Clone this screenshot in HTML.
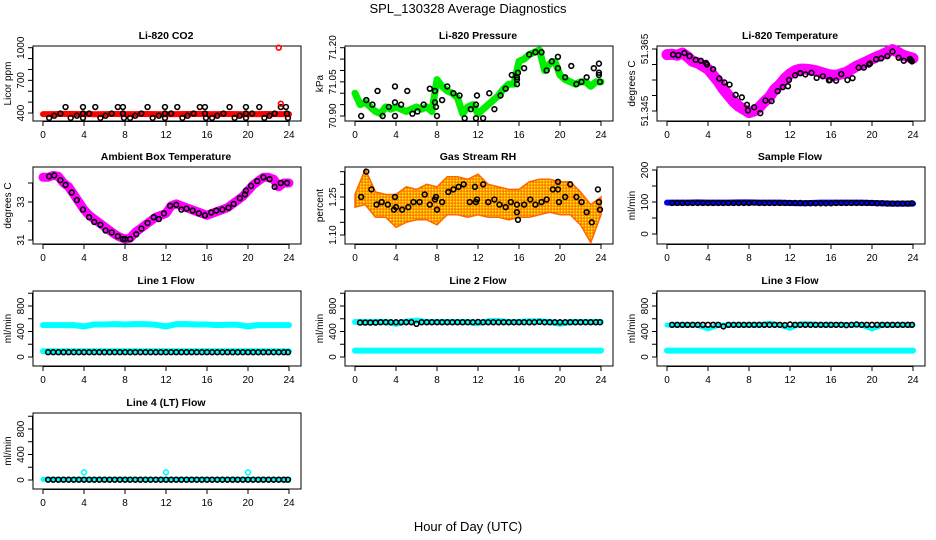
<!DOCTYPE html>
<html><head><meta charset="utf-8"><title>SPL_130328 Average Diagnostics</title>
<style>
html,body{margin:0;padding:0;background:#fff;}
svg{display:block;font-family:"Liberation Sans",sans-serif;}
</style></head>
<body>
<svg id="chart" width="936" height="540" viewBox="0 0 936 540" xmlns="http://www.w3.org/2000/svg">
<defs>
<pattern id="rhpat" width="3" height="3" patternUnits="userSpaceOnUse">
<rect width="3" height="3" fill="#ff9900"/><rect x="0" y="0" width="1.5" height="1.5" fill="#ffee00"/><rect x="1.5" y="1.5" width="1" height="1" fill="#ff3300"/>
</pattern>
</defs>
<text x="468" y="13" text-anchor="middle" font-size="13">SPL_130328  Average Diagnostics</text>
<text x="468" y="531" text-anchor="middle" font-size="13">Hour of Day (UTC)</text>
</svg>
<script>
// ---- data ----
const xTicks = [0,4,8,12,16,20,24];
const bandHours = [0,1,2,3,4,5,6,7,8,9,10,11,12,13,14,15,16,17,18,19,20,21,22,23,24];
const halfHours = [0,0.5,1,1.5,2,2.5,3,3.5,4,4.5,5,5.5,6,6.5,7,7.5,8,8.5,9,9.5,10,10.5,11,11.5,12,12.5,13,13.5,14,14.5,15,15.5,16,16.5,17,17.5,18,18.5,19,19.5,20,20.5,21,21.5,22,22.5,23,23.5,24];
const flowHours = [0.5,1,1.5,2,2.5,3,3.5,4,4.5,5,5.5,6,6.5,7,7.5,8,8.5,9,9.5,10,10.5,11,11.5,12,12.5,13,13.5,14,14.5,15,15.5,16,16.5,17,17.5,18,18.5,19,19.5,20,20.5,21,21.5,22,22.5,23,23.5,23.9];

// CO2
const co2Band = [390,390,392,391,390,389,390,391,390,390,391,390,389,390,391,392,390,390,391,390,389,390,391,390,390];
const co2BlackH = [0.6,1.1,1.7,2.2,2.7,3.3,3.9,3.9,3.9,4.5,5.1,5.6,6.1,6.7,7.3,7.8,7.8,7.9,8.5,9.0,9.6,10.2,10.7,11.3,11.9,11.9,11.9,12.5,13.1,13.6,14.1,14.7,15.3,15.8,15.8,15.9,16.5,17.0,17.6,18.2,18.7,19.2,19.8,19.8,19.8,20.4,21.1,21.6,22.1,22.6,23.2,23.7,23.8,23.9];
const co2BlackV = [355,375,395,455,355,375,395,455,355,395,455,355,375,395,455,455,395,355,355,375,395,455,355,375,395,455,355,395,455,355,375,395,455,455,395,355,355,375,395,455,355,375,395,455,355,395,455,355,375,395,455,455,395,355];
const co2RedH = [23.0,23.2];
const co2RedV = [1000,485];

// Pressure
const presBand = [71.00,70.95,70.96,70.94,70.92,70.91,70.94,70.93,70.94,70.93,70.92,70.93,70.94,70.93,70.94,70.92,71.06,71.03,71.01,71.00,70.98,70.91,70.94,70.95,70.91,70.93,70.95,70.97,70.99,71.02,71.04,71.04,71.14,71.15,71.17,71.18,71.19,71.10,71.13,71.14,71.08,71.06,71.05,71.04,71.05,71.05,71.03,71.05,71.05];
const presBlackH = [0.6,1.1,1.7,2.2,2.7,3.3,3.9,3.9,3.9,4.5,5.1,5.6,6.1,6.7,7.3,7.8,7.8,7.9,8.0,8.5,9.0,9.6,10.2,10.7,11.3,11.8,11.8,11.9,12.5,13.1,13.6,14.2,14.7,15.3,15.8,15.8,15.8,15.9,16.5,17.0,17.6,18.2,18.7,19.2,19.8,19.8,20.5,21.1,21.6,22.1,22.6,23.3,23.8,23.8,23.8,23.9];
const presBlackV = [70.90,70.97,70.95,71.01,70.90,70.94,70.96,70.90,71.03,70.95,71.01,70.91,70.92,70.95,71.02,71.01,70.96,70.94,70.90,70.97,71.03,71.00,70.99,70.89,70.93,70.95,70.89,70.99,70.89,71.00,70.93,70.99,71.02,71.08,71.04,71.06,71.07,71.09,71.11,71.17,71.18,71.18,71.10,71.14,71.16,71.11,71.07,71.12,71.04,71.05,71.07,71.11,71.13,71.08,71.09,71.05];

// Li-820 temperature
const tempBand = [51.3632,51.3633,51.3630,51.3637,51.3625,51.3610,51.3605,51.3595,51.3585,51.3565,51.3545,51.3520,51.3500,51.3480,51.3465,51.3455,51.3445,51.3450,51.3462,51.3480,51.3495,51.3520,51.3535,51.3555,51.3570,51.3580,51.3585,51.3585,51.3583,51.3580,51.3575,51.3570,51.3566,51.3565,51.3570,51.3575,51.3585,51.3595,51.3602,51.3610,51.3618,51.3625,51.3632,51.3640,51.3648,51.3640,51.3630,51.3625,51.3620];
const tempBlackH = [0.6,1.1,1.7,2.2,2.8,3.3,3.8,3.9,4.5,5.1,5.6,6.1,6.7,7.3,7.8,7.9,8.5,9.1,9.6,10.2,10.8,11.3,11.8,11.9,12.5,13.0,13.5,14.1,14.6,15.2,15.8,15.9,16.5,17.0,17.6,18.1,18.7,19.2,19.7,19.8,20.4,20.9,21.5,22.0,22.6,23.1,23.7,23.8,23.9];
const tempBlackV = [51.3632,51.3630,51.3637,51.3627,51.3615,51.3612,51.3605,51.3600,51.3585,51.3555,51.3542,51.3535,51.3502,51.3494,51.3470,51.3452,51.3462,51.3443,51.3484,51.3482,51.3514,51.3527,51.3530,51.3550,51.3565,51.3572,51.3568,51.3573,51.3557,51.3562,51.3549,51.3550,51.3548,51.3569,51.3550,51.3556,51.3590,51.3590,51.3600,51.3603,51.3617,51.3620,51.3627,51.3642,51.3622,51.3612,51.3618,51.3614,51.3610];

// Ambient box temperature
const ambBand = [34.3,34.3,34.4,34.35,34.0,33.8,33.4,33.0,32.6,32.3,32.1,31.9,31.7,31.5,31.3,31.15,31.05,31.1,31.4,31.6,31.8,32.0,32.2,32.3,32.4,32.8,32.9,32.8,32.7,32.6,32.5,32.4,32.3,32.4,32.5,32.6,32.7,32.9,33.1,33.3,33.6,33.9,34.1,34.3,34.3,34.2,33.8,34.0,34.0];
const ambBlackH = [0.6,1.1,1.7,2.2,2.8,3.3,3.9,4.5,5.0,5.6,6.1,6.7,7.3,7.8,8.0,8.5,9.1,9.6,10.2,10.8,11.3,11.8,12.4,13.0,13.5,14.0,14.6,15.2,15.8,16.4,16.9,17.5,18.1,18.6,19.2,19.7,19.8,20.3,20.9,21.5,22.1,22.6,23.2,23.8];
const ambBlackV = [34.35,34.4,34.15,33.9,33.5,33.1,32.6,32.2,31.95,31.8,31.5,31.4,31.2,31.05,31.05,31.05,31.3,31.6,31.9,32.2,32.1,32.4,32.8,32.85,32.6,32.65,32.55,32.4,32.3,32.45,32.55,32.6,32.7,32.9,33.2,33.4,33.6,33.85,34.1,34.3,34.2,33.8,34.0,34.0];

// Gas stream RH
const rhLow  = [1.21,1.22,1.17,1.17,1.13,1.15,1.16,1.16,1.14,1.18,1.18,1.17,1.18,1.17,1.17,1.16,1.17,1.17,1.18,1.19,1.18,1.18,1.14,1.07,1.18];
const rhHigh = [1.26,1.36,1.27,1.26,1.26,1.29,1.28,1.30,1.29,1.33,1.33,1.32,1.34,1.30,1.29,1.28,1.28,1.31,1.32,1.32,1.31,1.31,1.27,1.22,1.25];
const rhBlackH = [0.6,1.1,1.6,2.1,2.6,3.2,3.8,3.9,4.0,4.6,5.2,5.7,6.3,6.8,7.3,7.8,7.9,8.0,8.5,9.1,9.6,10.1,10.6,11.2,11.7,11.8,11.9,12.5,13.0,13.6,14.1,14.7,15.2,15.8,15.8,15.9,16.5,17.1,17.6,18.2,18.7,19.3,19.8,19.8,19.9,20.5,21.0,21.6,22.1,22.6,23.1,23.7,23.8,23.9];
const rhBlackV = [1.25,1.35,1.28,1.22,1.23,1.22,1.20,1.25,1.21,1.20,1.21,1.23,1.23,1.26,1.22,1.24,1.25,1.20,1.23,1.27,1.28,1.29,1.30,1.23,1.29,1.23,1.24,1.30,1.23,1.24,1.22,1.21,1.23,1.22,1.19,1.16,1.22,1.24,1.22,1.23,1.24,1.28,1.31,1.28,1.23,1.25,1.30,1.25,1.23,1.19,1.15,1.28,1.23,1.20];

// Sample flow
const sampleBand = [98,98,98,99,98,98,98,99,99,98,98,98,97,96,97,98,98,98,98,98,97,96,95,95,95];
const sampleBlack = [97,97,97,97,97,97,97,97,97,97,97,97,97,97,97,97,98,97,97,97,97,97,97,97,97,97,96,96,96,96,96,96,97,97,97,97,97,97,97,97,96,96,95,95,95,95,95,96];

// Line flows
const line1High  = [500,500,500,500,480,510,510,515,510,515,515,505,480,515,515,510,510,500,505,505,480,500,500,500,500];
const line1Low   = [90,90,90,90,90,90,90,90,90,90,90,90,90,90,90,90,90,90,90,90,90,90,90,90,90];
const line1Black = [75,75,75,75,75,75,75,75,75,75,75,75,75,75,75,75,75,75,75,75,75,75,75,75,75,75,75,75,75,75,75,75,75,75,75,75,75,75,75,75,75,75,75,75,75,75,75,75];
const line2High  = [550,550,550,550,520,555,570,550,550,550,550,550,530,560,565,550,550,560,560,550,520,550,550,550,550];
const line2Low   = [100,100,100,100,100,100,100,100,100,100,100,100,100,100,100,100,100,100,100,100,100,100,100,100,100];
const line2Black = [540,540,540,540,545,545,545,545,545,545,545,520,545,545,545,545,545,545,545,545,545,545,545,550,545,545,545,545,545,545,545,545,545,545,545,550,545,545,545,545,545,545,545,545,545,545,545,545];
const line3High  = [500,500,500,500,440,500,500,500,500,500,530,500,450,520,520,500,500,510,500,500,440,500,500,500,500];
const line3Low   = [100,100,100,100,100,100,100,100,100,100,100,100,100,100,100,100,100,100,100,100,100,100,100,100,100];
const line3Black = [505,505,505,505,505,505,505,505,505,505,480,505,505,505,505,505,505,505,505,505,505,505,500,510,505,505,505,505,505,505,505,505,505,505,500,505,510,505,505,505,505,505,505,505,505,505,505,505];
const line4High  = [10,10,10,10,10,10,10,10,10,10,10,10,10,10,10,10,10,10,10,10,10,10,10,10,10];
const line4OutH  = [4,12,20];
const line4OutV  = [120,120,120];
const line4Black = [5,5,5,5,5,5,5,5,5,5,5,5,5,5,5,5,5,5,5,5,5,5,5,5,5,5,5,5,5,5,5,5,5,5,5,5,5,5,5,5,5,5,5,5,5,5,5,5];

// ---- layout ----
const NS = "http://www.w3.org/2000/svg";
const svg = document.getElementById('chart');
const colX0 = [43,355,667];
const rowBox = [[46,121],[167,244],[291,366],[413,489]];
function mk(tag, attrs, parent){ const e=document.createElementNS(NS,tag); for(const k in attrs) e.setAttribute(k,attrs[k]); (parent||svg).appendChild(e); return e; }

function makePanel(col,row,title,ylab,v1,p1,v2,p2,ticks,labels,name){
  const x0=colX0[col], top=rowBox[row][0], bot=rowBox[row][1];
  const g=mk('g',{});
  
  
  const xs=h=>x0+h*246/24;
  const ys=v=>p1+(v-v1)*(p2-p1)/(v2-v1);
  const t=mk('text',{x:x0+123,y:top-7,'text-anchor':'middle','font-size':'10.5','font-weight':'bold'},g);
  t.textContent=title;
  
  
  const box=mk('rect',{x:x0-10,y:top,width:268,height:bot-top,fill:'none',stroke:'#000','stroke-width':1},g);
  
  
  const xa=mk('g',{},g);
  
  
  mk('line',{x1:xs(0),x2:xs(24),y1:bot+0.5,y2:bot+0.5,stroke:'#000'},xa);
  xTicks.forEach(h=>{
    mk('line',{x1:xs(h),x2:xs(h),y1:bot,y2:bot+5,stroke:'#000'},xa);
    const tl=mk('text',{x:xs(h),y:bot+17,'text-anchor':'middle','font-size':'10'},xa);
    tl.textContent=h;
    
    
  });
  const ya=mk('g',{},g);
  
  
  const ax=x0-10;
  mk('line',{x1:ax-0.5,x2:ax-0.5,y1:ys(ticks[0]),y2:ys(ticks[ticks.length-1]),stroke:'#000'},ya);
  ticks.forEach((v,i)=>{
    mk('line',{x1:ax-5,x2:ax,y1:ys(v),y2:ys(v),stroke:'#000'},ya);
    if(labels[i]!==''){
      const tl=mk('text',{x:0,y:0,'text-anchor':'middle','font-size':'10',transform:`translate(${ax-9},${ys(v)}) rotate(-90)`},ya);
      tl.textContent=labels[i];
      
      
    }
  });
  const yl=mk('text',{x:0,y:0,'text-anchor':'middle','font-size':'10',transform:`translate(${ax-22},${(top+bot)/2}) rotate(-90)`},g);
  yl.textContent=ylab;
  
  
  return {g,xs,ys};
}
function band(P,hs,vs,color,w,name){
  const pts=hs.map((h,i)=>P.xs(h)+','+P.ys(vs[i])).join(' ');
  const e=mk('polyline',{points:pts,fill:'none',stroke:color,'stroke-width':w,'stroke-linejoin':'round','stroke-linecap':'round'},P.g);
  
  
}
function area(P,hs,lo,hi,fill,name){
  const up=hs.map((h,i)=>P.xs(h)+','+P.ys(hi[i]));
  const dn=hs.map((h,i)=>P.xs(h)+','+P.ys(lo[i])).reverse();
  const e=mk('polygon',{points:up.concat(dn).join(' '),fill:fill,stroke:'#ff6600','stroke-width':1.5},P.g);
  
  
}
function points(P,hs,vs,color,name){
  const g=mk('g',{},P.g);
  
  
  hs.forEach((h,i)=>{
    const c=mk('circle',{cx:P.xs(h),cy:P.ys(vs[i]),r:2.4,fill:'none',stroke:color,'stroke-width':1.6},g);
    
    
  });
}

let P=makePanel(0,0,'Li-820 CO2','Licor ppm',400,113,1000,47.7,[400,500,600,700,800,900,1000],['400','','','700','','','1000'],'co2');
band(P,bandHours,co2Band,'#ff0000',6,'co2-red-series');
points(P,co2BlackH,co2BlackV,'#000','co2-black-series');
points(P,co2RedH,co2RedV,'#ff0000','co2-red-outliers');

P=makePanel(1,0,'Li-820 Pressure','kPa',70.90,116,71.20,47.7,[70.90,70.95,71.00,71.05,71.10,71.15,71.20],['70.90','','','71.05','','','71.20'],'pressure');
band(P,halfHours,presBand,'#00ee00',7,'pressure-green-series');
points(P,presBlackH,presBlackV,'#000','pressure-black-series');

P=makePanel(2,0,'Li-820 Temperature','degrees C',51.345,111,51.365,49,[51.345,51.350,51.355,51.360,51.365],['51.345','','','','51.365'],'li820-temp');
band(P,halfHours,tempBand,'#ff00ff',11,'li820-temp-magenta-series');
points(P,tempBlackH,tempBlackV,'#000','li820-temp-black-series');

P=makePanel(0,1,'Ambient Box Temperature','degrees C',31,240,33,202,[31,32,33,34],['31','','33',''],'ambient-temp');
band(P,halfHours,ambBand,'#ff00ff',9,'ambient-temp-magenta-series');
points(P,ambBlackH,ambBlackV,'#000','ambient-temp-black-series');

P=makePanel(1,1,'Gas Stream RH','percent',1.10,235,1.25,197,[1.10,1.15,1.20,1.25,1.30,1.35],['1.10','','','1.25','',''],'rh');
area(P,bandHours,rhLow,rhHigh,'url(#rhpat)','rh-orange-series');
points(P,rhBlackH,rhBlackV,'#000','rh-black-series');

P=makePanel(2,1,'Sample Flow','ml/min',0,234,200,170,[0,50,100,150,200],['0','','100','','200'],'sample-flow');
band(P,bandHours,sampleBand,'#0000ff',6,'sample-flow-blue-series');
points(P,flowHours,sampleBlack,'#000','sample-flow-black-series');

const flowTicks=[0,200,400,600,800,1000], flowLabels=['0','','400','','800',''];
P=makePanel(0,2,'Line 1 Flow','ml/min',0,357,800,306,flowTicks,flowLabels,'line1-flow');
band(P,bandHours,line1High,'#00ffff',6,'line1-cyan-high-series');
band(P,bandHours,line1Low,'#00ffff',6,'line1-cyan-low-series');
points(P,flowHours,line1Black,'#000','line1-black-series');
P=makePanel(1,2,'Line 2 Flow','ml/min',0,357,800,306,flowTicks,flowLabels,'line2-flow');
band(P,bandHours,line2High,'#00ffff',6,'line2-cyan-high-series');
band(P,bandHours,line2Low,'#00ffff',6,'line2-cyan-low-series');
points(P,flowHours,line2Black,'#000','line2-black-series');
P=makePanel(2,2,'Line 3 Flow','ml/min',0,357,800,306,flowTicks,flowLabels,'line3-flow');
band(P,bandHours,line3High,'#00ffff',5,'line3-cyan-high-series');
band(P,bandHours,line3Low,'#00ffff',6,'line3-cyan-low-series');
points(P,flowHours,line3Black,'#000','line3-black-series');
P=makePanel(0,3,'Line 4 (LT) Flow','ml/min',0,480,800,429,flowTicks,flowLabels,'line4-flow');
band(P,bandHours,line4High,'#00ffff',5,'line4-cyan-series');
points(P,line4OutH,line4OutV,'#00ffff','line4-cyan-outliers');
points(P,flowHours,line4Black,'#000','line4-black-series');
</script>
</body></html>
